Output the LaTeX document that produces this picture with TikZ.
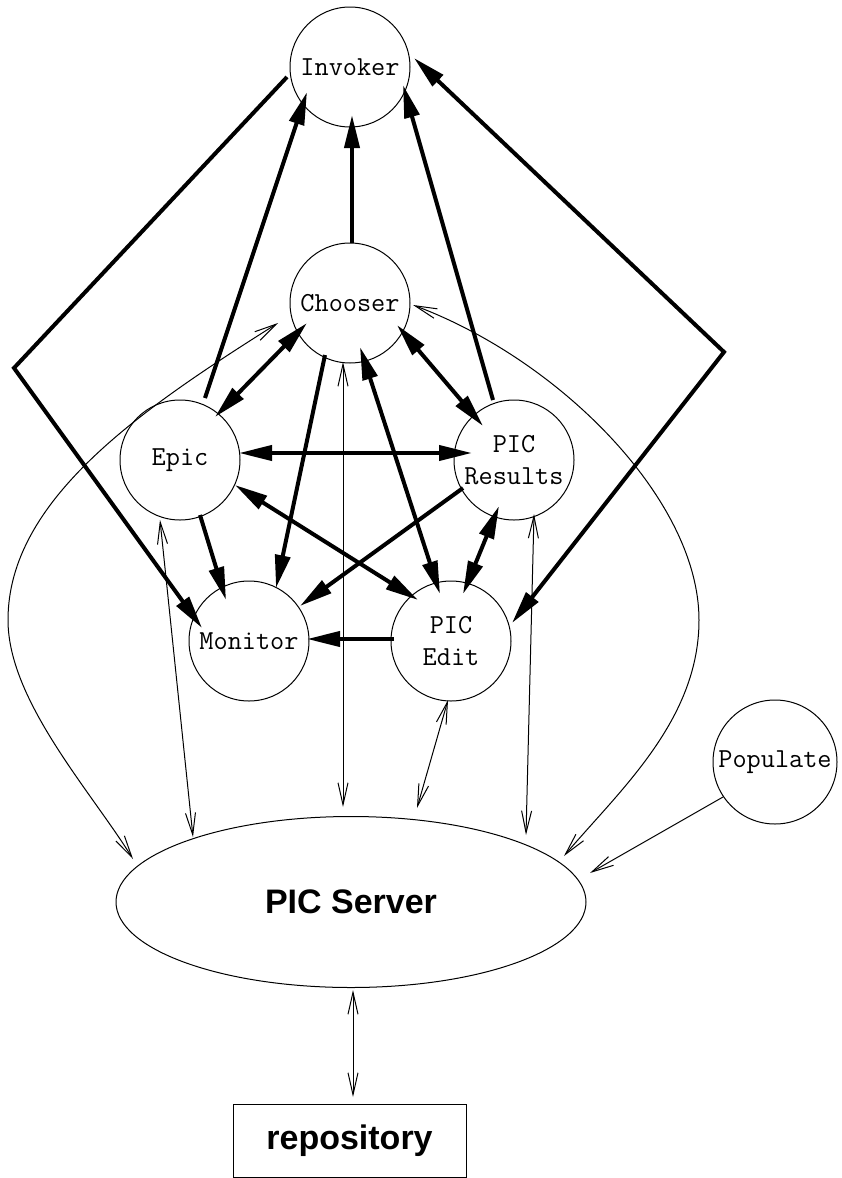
\documentclass[tikz,border=0pt]{standalone}
\usepackage{fontspec}
\newfontfamily\labelsans{Liberation Sans}
\usetikzlibrary{arrows.meta,shapes.geometric}

\tikzset{
  bigtip/.tip={Triangle[length=33pt,width=15pt]},
  smalltip/.tip={Straight Barb[length=22pt,width=10pt]},
  proc/.style={circle,draw,line width=1pt,minimum size=120pt,inner sep=0pt,
    align=center,font=\fontsize{27.5}{32}\selectfont\ttfamily},
  store/.style={draw,line width=1pt,inner sep=0pt,
    font={\labelsans\bfseries\fontsize{34}{40}\selectfont}},
  strong/.style={line width=4pt},
  feed/.style={line width=1pt},
}

\begin{document}
\begin{tikzpicture}[x=1pt,y=1pt]
\useasboundingbox (0,0) rectangle (841,-1178);

% processes
\node[proc] (inv) at (350,-67) {Invoker};
\node[proc] (cho) at (350,-303) {Chooser};
\node[proc] (epi) at (180,-460) {Epic};
\node[proc] (res) at (514,-460) {PIC\\Results};
\node[proc] (mon) at (249,-641) {Monitor};
\node[proc] (edi) at (451,-641) {PIC\\Edit};
\node[proc,minimum size=124pt] (pop) at (775,-762) {Populate};

% server and storage
\node[store,ellipse,minimum width=470pt,minimum height=171pt] (srv) at (351,-902) {PIC Server};
\node[store,rectangle,minimum width=233pt,minimum height=73pt] (rep) at (349.5,-1140.5) {repository};

% bends of the outer control loops and of the server links
\coordinate (lc) at (14,-368);
\coordinate (rc) at (724,-352);
\coordinate (lw) at (8,-620);
\coordinate (rw) at (699,-620);

% control flow
\draw[strong,-bigtip] ([shift={(2,60)}]cho.center) -- ([shift={(2,-48)}]inv.center);
\draw[strong,-bigtip] ([shift={(25,62)}]epi.center) -- ([shift={(-43,-25)}]inv.center);
\draw[strong,-bigtip] ([shift={(-21,60)}]res.center) -- ([shift={(53,-18)}]inv.center);
\draw[strong,-bigtip] ([shift={(-63,-10)}]inv.center) -- (lc) -- ([shift={(-47,13)}]mon.center);
\draw[strong,bigtip-bigtip] ([shift={(64,9)}]inv.center) -- (rc) -- ([shift={(61,18)}]edi.center);
\draw[strong,bigtip-bigtip] ([shift={(35,43)}]epi.center) -- ([shift={(-43,-20)}]cho.center);
\draw[strong,bigtip-bigtip] ([shift={(47,-22)}]cho.center) -- ([shift={(-31,34)}]res.center);
\draw[strong,bigtip-bigtip] ([shift={(59,7)}]epi.center) -- ([shift={(-42,7)}]res.center);
\draw[strong,-bigtip] ([shift={(-25,-52)}]cho.center) -- ([shift={(27,53)}]mon.center);
\draw[strong,-bigtip] ([shift={(20,-55)}]epi.center) -- ([shift={(-23,41)}]mon.center);
\draw[strong,-bigtip] ([shift={(-51,-28)}]res.center) -- ([shift={(51,35)}]mon.center);
\draw[strong,bigtip-bigtip] ([shift={(55,-25)}]epi.center) -- ([shift={(-33,41)}]edi.center);
\draw[strong,bigtip-bigtip] ([shift={(10,-44)}]cho.center) -- ([shift={(-11,47)}]edi.center);
\draw[strong,bigtip-bigtip] ([shift={(-15,-46)}]res.center) -- ([shift={(12,47)}]edi.center);
\draw[strong,-bigtip] ([shift={(-57,2)}]edi.center) -- ([shift={(58,2)}]mon.center);

% data links to the server
\draw[feed,smalltip-smalltip] ([shift={(-72,-20)}]cho.center)
  .. controls (140,-410) and (8,-500) .. (lw)
  .. controls (8,-700) and (90,-790) .. ([shift={(-218,43)}]srv.center);
\draw[feed,smalltip-smalltip] ([shift={(63,-2)}]cho.center)
  .. controls (560,-360) and (699,-500) .. (rw)
  .. controls (699,-720) and (620,-790) .. ([shift={(213,46)}]srv.center);
\draw[feed,smalltip-smalltip] ([shift={(-20,-60)}]epi.center) -- ([shift={(-158,65)}]srv.center);
\draw[feed,smalltip-smalltip] ([shift={(-7,-59)}]cho.center) -- ([shift={(-8,95)}]srv.center);
\draw[feed,smalltip-smalltip] ([shift={(-3,-59)}]edi.center) -- ([shift={(66,94)}]srv.center);
\draw[feed,smalltip-smalltip] ([shift={(20,-54)}]res.center) -- ([shift={(175,67)}]srv.center);
\draw[feed,-smalltip] ([shift={(-52,-35)}]pop.center) -- ([shift={(239,29)}]srv.center);
\draw[feed,smalltip-smalltip] ([shift={(2,-88)}]srv.center) -- ([shift={(3.5,43.5)}]rep.center);
\end{tikzpicture}
\end{document}
